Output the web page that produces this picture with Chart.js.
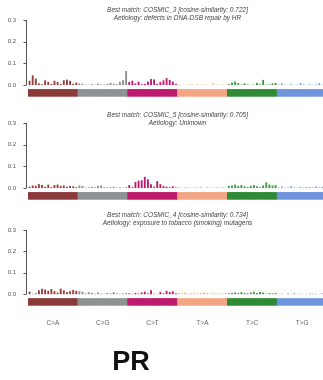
<!DOCTYPE html>
<html>
<head>
<meta charset="utf-8">
<script src="https://cdn.jsdelivr.net/npm/chart.js@4.4.1/dist/chart.umd.min.js"></script>
<style>
  html, body { margin: 0; padding: 0; background: #fff; }
  body { width: 323px; height: 380px; overflow: hidden; position: relative; }
  canvas.panel { position: absolute; left: 0; }
  #p1 { top: 0; }
  #p2 { top: 100px; }
  #p3 { top: 200px; }
  #caption {
    position: absolute; left: 31px; top: 346px; width: 200px;
    text-align: center; color: #111;
    font: bold 27px "Liberation Sans", Arial, sans-serif;
  }
</style>
</head>
<body>
<canvas id="p1" class="panel" width="330" height="117"></canvas>
<canvas id="p2" class="panel" width="330" height="120"></canvas>
<canvas id="p3" class="panel" width="330" height="130"></canvas>
<div id="caption">PR</div>

<script>
  // substitution types and trinucleotide contexts
  const mutTypes = ['C>A', 'C>G', 'C>T', 'T>A', 'T>C', 'T>G'];
  const flank5 = ['A', 'C', 'G', 'T'];
  const flank3 = ['A', 'C', 'G', 'T'];
  const yTicks = [0, 0.1, 0.2, 0.3];

  const typeColors = ['#8B3A3A', '#8F9292', '#BE1A6E', '#F2A582', '#2E8A34', '#7093DE'];
  const barColors = ['#963c3c', '#8c8c8c', '#c01a6e', '#e9bb8c', '#3c9a3c', '#8fa9e0'];

  // panel titles
  const titles1 = ['Best match: COSMIC_3 [cosine-similarity: 0.722]', 'Aetiology: defects in DNA-DSB repair by HR'];
  const titles2 = ['Best match: COSMIC_5 [cosine-similarity: 0.705]', 'Aetiology: Unknown'];
  const titles3 = ['Best match: COSMIC_4 [cosine-similarity: 0.734]', 'Aetiology: exposure to tobacco (smoking) mutagens'];

  // signature 1 (C>A, C>G, C>T, T>A, T>C, T>G; 16 contexts each)
  const sig1 = [
    0.020, 0.045, 0.030, 0.008, 0.004, 0.022, 0.015, 0.005, 0.020, 0.014, 0.005, 0.022, 0.025, 0.020, 0.006, 0.012,
    0.008, 0.006, 0.002, 0.001, 0.004, 0.002, 0.006, 0.003, 0.002, 0.005, 0.010, 0.006, 0.004, 0.015, 0.022, 0.065,
    0.014, 0.020, 0.008, 0.016, 0.004, 0.006, 0.016, 0.028, 0.026, 0.006, 0.014, 0.022, 0.032, 0.024, 0.016, 0.006,
    0.002, 0.001, 0.001, 0.002, 0.003, 0.001, 0.004, 0.002, 0.001, 0.002, 0.001, 0.008, 0.002, 0.001, 0.003, 0.001,
    0.004, 0.012, 0.016, 0.010, 0.002, 0.008, 0.003, 0.001, 0.002, 0.010, 0.004, 0.024, 0.002, 0.003, 0.008, 0.010,
    0.003, 0.008, 0.002, 0.001, 0.004, 0.001, 0.002, 0.010, 0.003, 0.001, 0.004, 0.002, 0.003, 0.009, 0.002, 0.002
  ];
  const sig2 = [
    0.006, 0.012, 0.010, 0.018, 0.014, 0.006, 0.016, 0.004, 0.014, 0.016, 0.010, 0.012, 0.006, 0.010, 0.008, 0.004,
    0.012, 0.010, 0.002, 0.003, 0.006, 0.004, 0.010, 0.012, 0.004, 0.003, 0.004, 0.006, 0.002, 0.003, 0.002, 0.004,
    0.014, 0.004, 0.028, 0.034, 0.036, 0.052, 0.040, 0.018, 0.006, 0.032, 0.018, 0.010, 0.006, 0.004, 0.008, 0.003,
    0.004, 0.002, 0.005, 0.003, 0.002, 0.004, 0.003, 0.006, 0.002, 0.004, 0.003, 0.002, 0.005, 0.003, 0.004, 0.002,
    0.010, 0.012, 0.016, 0.010, 0.014, 0.008, 0.004, 0.010, 0.014, 0.008, 0.004, 0.012, 0.026, 0.016, 0.012, 0.014,
    0.004, 0.008, 0.002, 0.003, 0.010, 0.004, 0.002, 0.006, 0.003, 0.005, 0.004, 0.003, 0.008, 0.004, 0.006, 0.002
  ];
  const sig3 = [
    0.012, 0.002, 0.004, 0.018, 0.026, 0.022, 0.016, 0.024, 0.014, 0.008, 0.026, 0.018, 0.010, 0.014, 0.020, 0.016,
    0.014, 0.012, 0.004, 0.010, 0.006, 0.002, 0.008, 0.003, 0.002, 0.006, 0.004, 0.010, 0.004, 0.002, 0.003, 0.005,
    0.004, 0.002, 0.006, 0.003, 0.008, 0.012, 0.004, 0.018, 0.002, 0.001, 0.010, 0.004, 0.016, 0.010, 0.014, 0.004,
    0.006, 0.004, 0.008, 0.003, 0.005, 0.007, 0.004, 0.006, 0.008, 0.005, 0.003, 0.006, 0.004, 0.005, 0.003, 0.006,
    0.004, 0.006, 0.008, 0.005, 0.010, 0.006, 0.004, 0.008, 0.012, 0.006, 0.010, 0.008, 0.003, 0.005, 0.004, 0.006,
    0.002, 0.003, 0.001, 0.004, 0.002, 0.005, 0.002, 0.003, 0.001, 0.002, 0.004, 0.002, 0.003, 0.001, 0.004, 0.002
  ];

  const FONT = '"Liberation Sans", Arial, sans-serif';
  const STRIP = [-0.052, -0.02];

  // 96 categories like "A[C>A]A"
  const categories = [];
  const typeOf = [];
  mutTypes.forEach(function (t, ti) {
    flank5.forEach(function (a) {
      flank3.forEach(function (b) {
        categories.push(a + '[' + t + ']' + b);
        typeOf.push(ti);
      });
    });
  });

  // axis line, tick marks, titles and type labels
  const decor = {
    id: 'decor',
    afterDraw(chart, args, opts) {
      const ctx = chart.ctx;
      const y = chart.scales.y;
      const x = chart.scales.x;
      const area = chart.chartArea;
      ctx.save();
      ctx.strokeStyle = '#555';
      ctx.lineWidth = 1;
      const ax = area.left - 1.5;
      ctx.beginPath();
      ctx.moveTo(ax, y.getPixelForValue(0));
      ctx.lineTo(ax, y.getPixelForValue(0.3));
      yTicks.forEach(function (v) {
        const py = Math.round(y.getPixelForValue(v)) + 0.5;
        ctx.moveTo(ax - 3, py);
        ctx.lineTo(ax, py);
      });
      ctx.stroke();

      // title lines
      ctx.fillStyle = '#444';
      ctx.font = 'italic 6.5px ' + FONT;
      ctx.textAlign = 'center';
      ctx.textBaseline = 'middle';
      const cx = (area.left + area.right) / 2;
      opts.lines.forEach(function (line, i) {
        ctx.fillText(line, cx, opts.titleY[i]);
      });

      // substitution labels under the strip
      if (opts.typeLabels) {
        ctx.fillStyle = '#666';
        ctx.font = '6.5px ' + FONT;
        mutTypes.forEach(function (t, ti) {
          ctx.fillText(t, x.getPixelForValue(ti * 16 + 7.5), opts.typeLabelY);
        });
      }
      ctx.restore();
    }
  };

  function makePanel(id, values, lines, padTop, padBottom, titleY, typeLabels) {
    const ctx = document.getElementById(id).getContext('2d');
    return new Chart(ctx, {
      type: 'bar',
      data: {
        labels: categories,
        datasets: [{
          data: categories.map(function () { return STRIP; }),
          backgroundColor: typeOf.map(function (i) { return typeColors[i]; }),
          barPercentage: 1,
          categoryPercentage: 1,
          grouped: false,
        },
        {
          data: values,
          backgroundColor: typeOf.map(function (i) { return barColors[i]; }),
          barPercentage: 0.6,
          categoryPercentage: 1,
          grouped: false,
        }]
      },
      options: {
        responsive: false,
        animation: false,
        devicePixelRatio: 1,
        layout: { padding: { left: 2, right: 3, top: padTop, bottom: padBottom } },
        plugins: {
          legend: { display: false },
          tooltip: { enabled: false },
          decor: { lines: lines, titleY: titleY, typeLabels: typeLabels, typeLabelY: 123 },
        },
        scales: {
          x: { display: false },
          y: {
            min: -0.055,
            max: 0.3,
            afterBuildTicks: function (s) { s.ticks = yTicks.map(function (v) { return { value: v }; }); },
            afterFit: function (s) { s.width = 26; },
            ticks: {
              font: { size: 6, family: FONT },
              color: '#555',
              padding: 4,
              callback: function (v) { return v.toFixed(1); },
            },
            grid: { display: false },
            border: { display: false },
          }
        }
      },
      plugins: [decor],
    });
  }

  const chart1 = makePanel('p1', sig1, titles1, 20, 20, [10, 18], false);
  const chart2 = makePanel('p2', sig2, titles2, 23, 20, [15, 23], false);
  const chart3 = makePanel('p3', sig3, titles3, 30, 24, [15, 23], true);
</script>
</body>
</html>
